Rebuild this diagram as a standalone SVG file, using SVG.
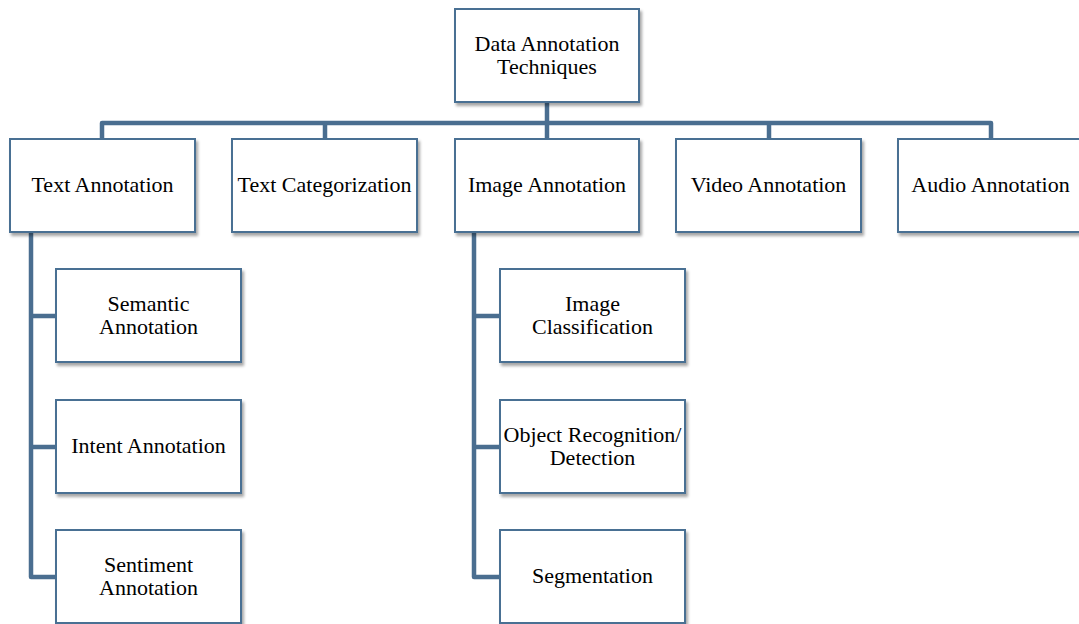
<svg xmlns="http://www.w3.org/2000/svg" width="1079" height="624" viewBox="0 0 1079 624">
<defs>
<filter id="sh" x="-10%" y="-10%" width="130%" height="140%">
<feDropShadow dx="2" dy="3" stdDeviation="1.5" flood-color="#000" flood-opacity="0.35"/>
</filter>
<style>
.box{fill:#fff;stroke:#4a6f93;stroke-width:2;filter:url(#sh)}
.lbl{font-family:"Liberation Serif","Times New Roman",serif;font-size:22px;fill:#000;text-anchor:middle}
.con{fill:none;stroke:#4a6e90;stroke-width:4.5;stroke-linejoin:round}
</style>
</defs>
<rect width="1079" height="624" fill="#fff"/>
<g id="connectors">
<path class="con" d="M547 102 V139"/>
<path class="con" d="M102 139 V123 H991 V139"/>
<path class="con" d="M325 123 V139"/>
<path class="con" d="M769 123 V139"/>
<path class="con" d="M31 232 V577 H56 M31 316 H56 M31 447 H56"/>
<path class="con" d="M474 232 V577 H500 M474 316 H500 M474 447 H500"/>
</g>
<g id="root">
<rect class="box" x="455" y="9" width="184" height="93"/>
<text class="lbl" x="547" y="51">Data Annotation</text>
<text class="lbl" x="547" y="74">Techniques</text>
</g>
<g id="text-annotation">
<rect class="box" x="10" y="139" width="185" height="93"/>
<text class="lbl" x="102.5" y="192">Text Annotation</text>
</g>
<g id="text-categorization">
<rect class="box" x="232" y="139" width="185" height="93"/>
<text class="lbl" x="324.5" y="192">Text Categorization</text>
</g>
<g id="image-annotation">
<rect class="box" x="455" y="139" width="184" height="93"/>
<text class="lbl" x="547" y="192">Image Annotation</text>
</g>
<g id="video-annotation">
<rect class="box" x="676" y="139" width="185" height="93"/>
<text class="lbl" x="768.5" y="192">Video Annotation</text>
</g>
<g id="audio-annotation">
<rect class="box" x="898" y="139" width="185" height="93"/>
<text class="lbl" x="990.5" y="192">Audio Annotation</text>
</g>
<g id="semantic-annotation">
<rect class="box" x="56" y="269" width="185" height="93"/>
<text class="lbl" x="148.5" y="311">Semantic</text>
<text class="lbl" x="148.5" y="334">Annotation</text>
</g>
<g id="intent-annotation">
<rect class="box" x="56" y="400" width="185" height="93"/>
<text class="lbl" x="148.5" y="453">Intent Annotation</text>
</g>
<g id="sentiment-annotation">
<rect class="box" x="56" y="530" width="185" height="93"/>
<text class="lbl" x="148.5" y="572">Sentiment</text>
<text class="lbl" x="148.5" y="595">Annotation</text>
</g>
<g id="image-classification">
<rect class="box" x="500" y="269" width="185" height="93"/>
<text class="lbl" x="592.5" y="311">Image</text>
<text class="lbl" x="592.5" y="334">Classification</text>
</g>
<g id="object-recognition">
<rect class="box" x="500" y="400" width="185" height="93"/>
<text class="lbl" x="592.5" y="442">Object Recognition/</text>
<text class="lbl" x="592.5" y="465">Detection</text>
</g>
<g id="segmentation">
<rect class="box" x="500" y="530" width="185" height="93"/>
<text class="lbl" x="592.5" y="583">Segmentation</text>
</g>
</svg>
